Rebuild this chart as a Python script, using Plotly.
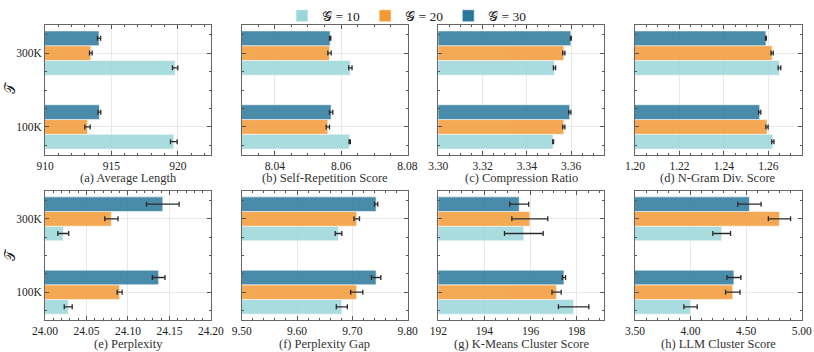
import plotly.graph_objects as go

# y categories (bottom to top)
tau = ["100K", "300K"]
groups = ["𝒢 = 10", "𝒢 = 20", "𝒢 = 30"]
colors = ["#9ad6da", "#f39a37", "#2b779c"]

titles = ["(a) Average Length", "(b) Self-Repetition Score", "(c) Compression Ratio",
          "(d) N-Gram Div. Score", "(e) Perplexity", "(f) Perplexity Gap",
          "(g) K-Means Cluster Score", "(h) LLM Cluster Score"]

# values per metric: [100K, 300K]
avg_len = [[919.7, 919.8], [913.2, 913.45], [914.1, 914.07]]
avg_len_err = [[0.25, 0.2], [0.2, 0.1], [0.1, 0.12]]

self_rep = [[8.0626, 8.0628], [8.0560, 8.0565], [8.0570, 8.0567]]
self_rep_err = [[0.0002, 0.0005], [0.0005, 0.0005], [0.0005, 0.0002]]

compression = [[3.3519, 3.3525], [3.3567, 3.3567], [3.3594, 3.3599]]
compression_err = [[0.0002, 0.0005], [0.0005, 0.0005], [0.0005, 0.0002]]

ngram = [[1.2620, 1.2650], [1.2594, 1.2617], [1.2561, 1.2589]]
ngram_err = [[0.0005, 0.0006], [0.0005, 0.0005], [0.0005, 0.0002]]

perplexity = [[24.028, 24.022], [24.090, 24.080], [24.137, 24.142]]
perplexity_err = [[0.0048, 0.0066], [0.003, 0.008], [0.0076, 0.0197]]

ppl_gap = [[9.681, 9.675], [9.708, 9.708], [9.743, 9.743]]
ppl_gap_err = [[0.010, 0.006], [0.011, 0.005], [0.0085, 0.003]]

kmeans = [[197.87, 195.71], [197.13, 195.97], [197.45, 195.51]]
kmeans_err = [[0.66, 0.84], [0.2, 0.78], [0.07, 0.41]]

llm = [[4.00, 4.28], [4.38, 4.80], [4.39, 4.53]]
llm_err = [[0.06, 0.08], [0.065, 0.10], [0.063, 0.105]]

data = [(avg_len, avg_len_err), (self_rep, self_rep_err), (compression, compression_err),
        (ngram, ngram_err), (perplexity, perplexity_err), (ppl_gap, ppl_gap_err),
        (kmeans, kmeans_err), (llm, llm_err)]

# axis settings: range, major dtick, minor dtick, format
xcfg = [([910, 922.5], 5, 1, "d"), ([8.03, 8.0801], 0.02, 0.005, ".2f"),
        ([3.30, 3.375], 0.02, 0.005, ".2f"), ([1.20, 1.275], 0.02, 0.005, ".2f"),
        ([24.0, 24.2001], 0.05, 0.01, ".2f"), ([9.5, 9.8001], 0.1, 0.02, ".2f"),
        ([192, 199.2], 2, 0.5, "d"), ([3.5, 5.0001], 0.5, 0.1, ".2f")]

W, H = 814, 352
col_x = [(45, 211), (241.7, 407.7), (438.3, 604.3), (635, 801.7)]
row_y = [(25, 155), (191, 320)]
FONT = "Liberation Serif"

fig = go.Figure()
layout = {}
annotations = []

for i in range(8):
    r, c = divmod(i, 4)
    n = i + 1
    xa = "x" if n == 1 else f"x{n}"
    ya = "y" if n == 1 else f"y{n}"
    vals, errs = data[i]
    for g in range(3):
        fig.add_trace(go.Bar(
            x=vals[g], y=[0, 1], orientation="h", name=groups[g],
            marker=dict(color=colors[g], opacity=0.85, line=dict(color="white", width=0.6)),
            error_x=dict(type="data", array=errs[g], color="#2a2a2a", thickness=1.3, width=2.5),
            xaxis=xa, yaxis=ya, showlegend=(i == 0), legendgroup=groups[g]))
    rng, dt, mdt, fmt = xcfg[i]
    x0, x1 = col_x[c]
    y0, y1 = row_y[r]
    layout["xaxis" if n == 1 else f"xaxis{n}"] = dict(
        domain=[x0 / W, x1 / W], anchor=ya, range=rng, dtick=dt, tick0=0,
        tickformat=fmt, ticks="inside", ticklen=4, tickcolor="#555", automargin=False,
        showline=True, linecolor="#666", linewidth=1, mirror="ticks",
        showgrid=True, gridcolor="#e8e8e8", gridwidth=0.8, zeroline=False,
        minor=dict(ticks="inside", dtick=mdt, tick0=0, ticklen=2, tickcolor="#555", showgrid=False),
        tickfont=dict(family=FONT, size=11.5, color="#222"))
    layout["yaxis" if n == 1 else f"yaxis{n}"] = dict(
        domain=[1 - y1 / H, 1 - y0 / H], anchor=xa, range=[-0.38, 1.38],
        tickvals=[0, 1], ticktext=tau, showticklabels=(c == 0), automargin=False,
        ticks="inside", ticklen=4, tickcolor="#555",
        showline=True, linecolor="#666", linewidth=1, mirror="ticks",
        showgrid=True, gridcolor="#e8e8e8", gridwidth=0.8, zeroline=False,
        minor=dict(ticks="inside", tickmode="linear", dtick=0.25, tick0=0, ticklen=2,
                   tickcolor="#555", showgrid=False),
        tickfont=dict(family=FONT, size=11.5, color="#222"))
    annotations.append(dict(
        text=titles[i], x=(x0 + x1) / 2 / W, y=1 - (178 if r == 0 else 344) / H,
        xref="paper", yref="paper", showarrow=False, xanchor="center", yanchor="middle",
        font=dict(family=FONT, size=12.5, color="#333")))

for r in range(2):
    annotations.append(dict(
        text="𝒯", x=10 / W, y=1 - (88 if r == 0 else 255) / H, xref="paper", yref="paper",
        showarrow=False, textangle=-90, xanchor="center", yanchor="middle",
        font=dict(family=FONT, size=14, color="#222")))

fig.update_layout(
    **layout,
    annotations=annotations,
    barmode="group", bargap=0.4, bargroupgap=0,
    width=W, height=H, margin=dict(l=0, r=0, t=0, b=0, autoexpand=False),
    plot_bgcolor="white", paper_bgcolor="white",
    font=dict(family=FONT, size=12, color="#222"),
    legend=dict(orientation="h", x=0.5, xanchor="center", y=1 - 16 / H, yanchor="middle",
                font=dict(family=FONT, size=13.5), bgcolor="rgba(0,0,0,0)"),
)

# page body has a default 8px margin; drop it so the figure sits at the window corner
fig.write_html("out.html", config={"displayModeBar": False},
               post_script="document.body.style.margin='0';")
